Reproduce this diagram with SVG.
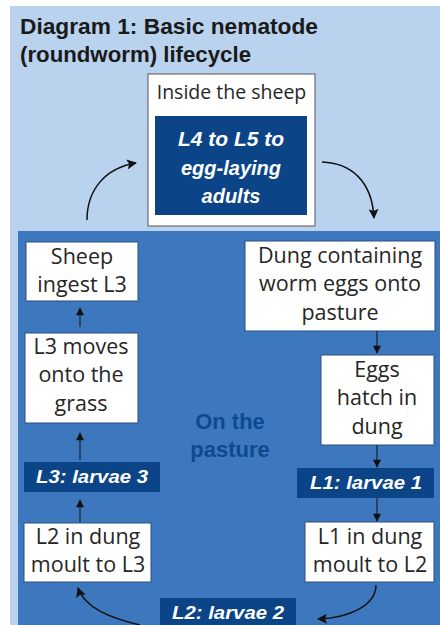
<svg xmlns="http://www.w3.org/2000/svg" width="440" height="625" viewBox="0 0 440 625">
<defs>
<style>
.box{fill:#ffffff;stroke:#2a4f80;stroke-width:1}
.lab{fill:#0b4587}
.t{font-family:"Open Sans","Noto Sans","Liberation Sans",sans-serif;font-size:21.5px;fill:#262626;text-anchor:middle}
.ts{font-size:19.5px}
.w{font-family:"Liberation Sans","Arial",sans-serif;font-weight:bold;font-style:italic;fill:#ffffff;text-anchor:middle}
.title{font-family:"Liberation Sans","Arial",sans-serif;font-weight:bold;font-size:21.5px;fill:#1a1a1a}
.pas{font-family:"Liberation Sans","Arial",sans-serif;font-weight:bold;font-size:22px;fill:#0e4a8e;text-anchor:middle}
.c{fill:none;stroke:#111;stroke-width:1.5}
.s{fill:none;stroke:#111;stroke-width:1}
</style>
<marker id="ah" viewBox="0 0 10 10" refX="9" refY="5" markerWidth="9" markerHeight="8" markerUnits="userSpaceOnUse" orient="auto">
<path d="M0,0 L10,5 L0,10 z" fill="#111"/>
</marker>
<marker id="ahs" viewBox="0 0 10 10" refX="9" refY="5" markerWidth="12" markerHeight="10" markerUnits="userSpaceOnUse" orient="auto">
<path d="M0,0 L10,5 L0,10 L2,5 z" fill="#111"/>
</marker>
</defs>
<rect x="0" y="0" width="440" height="625" fill="#ffffff"/>
<rect x="10" y="6" width="430" height="619" fill="#b9d2ee"/>
<rect x="18" y="231" width="422" height="394" fill="#3d78be"/>
<g id="title">
<text class="title" x="20" y="34" textLength="298" lengthAdjust="spacingAndGlyphs">Diagram 1: Basic nematode</text>
<text class="title" x="20" y="62" textLength="231" lengthAdjust="spacingAndGlyphs">(roundworm) lifecycle</text>
</g>
<g id="inside-sheep">
<rect x="148" y="74" width="167" height="152" fill="#ffffff" stroke="#555" stroke-width="1"/>
<text class="t ts" x="231.5" y="99">Inside the sheep</text>
<rect x="155" y="116" width="152" height="99" class="lab"/>
<text class="w" font-size="20" x="231" y="146" textLength="106" lengthAdjust="spacingAndGlyphs">L4 to L5 to</text>
<text class="w" font-size="20" x="231" y="175">egg-laying</text>
<text class="w" font-size="20" x="231" y="203">adults</text>
</g>
<g id="pasture-label">
<text class="pas" x="230" y="429">On the</text>
<text class="pas" x="230" y="457">pasture</text>
</g>
<g id="sheep-ingest">
<rect class="box" x="26" y="242" width="112" height="59"/>
<text class="t" x="82" y="264">Sheep</text>
<text class="t" x="82" y="292">ingest L3</text>
</g>
<g id="dung-eggs">
<rect class="box" x="245" y="241" width="190" height="90"/>
<text class="t" x="340" y="263">Dung containing</text>
<text class="t" x="340" y="291">worm eggs onto</text>
<text class="t" x="340" y="320">pasture</text>
</g>
<g id="l3-moves">
<rect class="box" x="25" y="333" width="113" height="90"/>
<text class="t" x="81" y="354">L3 moves</text>
<text class="t" x="81" y="382">onto the</text>
<text class="t" x="81" y="411">grass</text>
</g>
<g id="eggs-hatch">
<rect class="box" x="321" y="355" width="113" height="90"/>
<text class="t" x="377" y="377">Eggs</text>
<text class="t" x="377" y="405">hatch in</text>
<text class="t" x="377" y="434">dung</text>
</g>
<g id="l3-label">
<rect class="lab" x="24" y="462" width="136" height="30"/>
<text class="w" font-size="19" x="92" y="483" textLength="112" lengthAdjust="spacingAndGlyphs">L3: larvae 3</text>
</g>
<g id="l1-label">
<rect class="lab" x="297" y="468" width="137" height="30"/>
<text class="w" font-size="19" x="366" y="489" textLength="112" lengthAdjust="spacingAndGlyphs">L1: larvae 1</text>
</g>
<g id="l2-in-dung">
<rect class="box" x="24" y="523" width="127" height="59"/>
<text class="t" x="88" y="544">L2 in dung</text>
<text class="t" x="88" y="572">moult to L3</text>
</g>
<g id="l1-in-dung">
<rect class="box" x="305" y="522" width="129" height="60"/>
<text class="t" x="370" y="544">L1 in dung</text>
<text class="t" x="370" y="572">moult to L2</text>
</g>
<g id="l2-label">
<rect class="lab" x="160" y="598" width="136" height="30"/>
<text class="w" font-size="19" x="228" y="619" textLength="112" lengthAdjust="spacingAndGlyphs">L2: larvae 2</text>
</g>
<g id="connectors">
<path class="c" d="M87,220 C87,190 105,168 136,163" marker-end="url(#ahs)"/>
<path class="c" d="M322,162 C350,163 372,180 374,218" marker-end="url(#ahs)"/>
<path class="s" d="M80,327 L80,308" marker-end="url(#ah)"/>
<path class="s" d="M80,460 L80,433" marker-end="url(#ah)"/>
<path class="s" d="M80,522 L80,500" marker-end="url(#ah)"/>
<path class="s" d="M377,331 L377,353" marker-end="url(#ah)"/>
<path class="s" d="M377,445 L377,467" marker-end="url(#ah)"/>
<path class="s" d="M377,498 L377,521" marker-end="url(#ah)"/>
<path class="c" d="M376,585 C376,605 350,618 318,619" marker-end="url(#ahs)"/>
<path class="c" d="M140,625 C110,618 85,608 78,588" marker-end="url(#ahs)"/>
</g>
</svg>
